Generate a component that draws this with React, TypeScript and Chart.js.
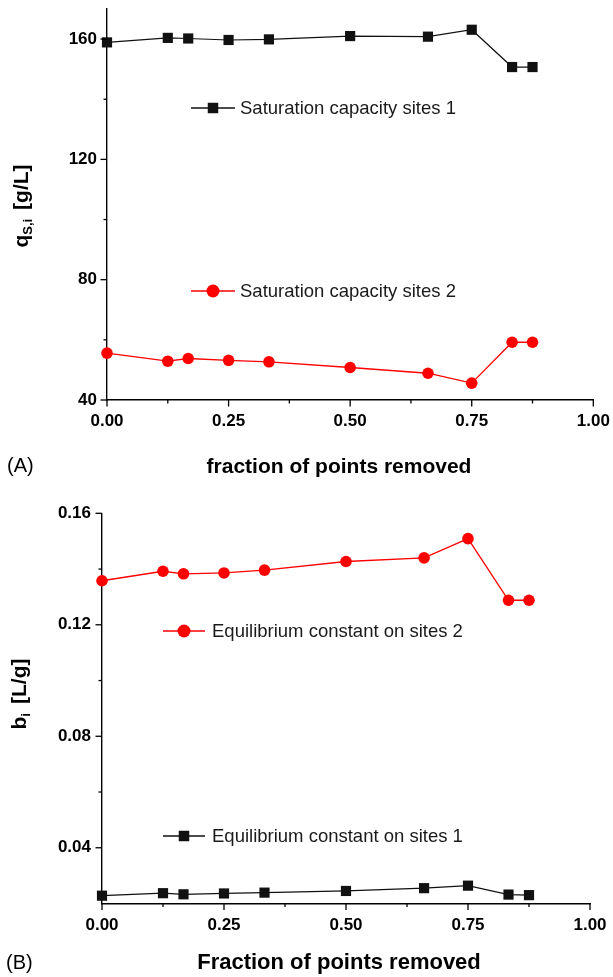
import React, { useEffect, useRef } from "react";
import { Chart, registerables } from "chart.js";

Chart.register(...registerables);

// Fraction of points removed from the data set before refitting
const fractionRemoved = [0, 0.125, 0.167, 0.25, 0.333, 0.5, 0.66, 0.75, 0.833, 0.875];

// (A) saturation capacities, g/L
const capacitySites1 = [158.9, 160.4, 160.2, 159.7, 159.9, 161.0, 160.8, 163.1, 150.7, 150.7];
const capacitySites2 = [55.6, 52.9, 53.8, 53.2, 52.7, 50.8, 48.9, 45.6, 59.2, 59.2];

// (B) equilibrium constants, L/g
const equilibriumSites1 = [0.0228, 0.0237, 0.0233, 0.0236, 0.0239, 0.0245, 0.0255, 0.0264, 0.0232, 0.023];
const equilibriumSites2 = [0.1358, 0.1392, 0.1383, 0.1386, 0.1396, 0.1427, 0.144, 0.1509, 0.1288, 0.1288];

// Tick marks
const fractionMajorTicks = [0, 0.25, 0.5, 0.75, 1];
const fractionMinorTicks = [0.125, 0.375, 0.625, 0.875];
const capacityMajorTicks = [40, 80, 120, 160];
const capacityMinorTicks = [60, 100, 140];
const equilibriumMajorTicks = [0.04, 0.08, 0.12, 0.16];
const equilibriumMinorTicks = [0.06, 0.1, 0.14];

const FONT = "'Liberation Sans', Arial, Helvetica, sans-serif";
const RED = "#ff0000";
const BLACK = "#111111";

type Marker = "rect" | "circle";

interface Series {
  values: number[];
  color: string;
  marker: Marker;
  lineWidth: number;
}

interface LegendItem {
  text: string;
  color: string;
  marker: Marker;
  y: number;
}

interface PanelSpec {
  width: number;
  height: number;
  area: { left: number; top: number; right: number; bottom: number };
  yMin: number;
  yMax: number;
  yStep: number;
  yLabel: (v: number) => string;
  yMajor: number[];
  yMinor: number[];
  xLabelPadding: number;
  yLabelPadding: number;
  series: Series[];
  legend: { lineFrom: number; lineTo: number; markerX: number; textX: number; items: LegendItem[] };
  yTitle: { main: string; sub: string; unit: string; x: number; y: number };
  xTitle: { text: string; x: number; y: number; size: number };
  tag: { text: string; x: number; y: number };
}

const panelA: PanelSpec = {
  width: 613,
  height: 488,
  area: { left: 107, top: 9, right: 593.3, bottom: 400 },
  yMin: 40,
  yMax: 170,
  yStep: 20,
  yLabel: (v) => (v % 40 === 0 && v <= 160 ? String(v) : ""),
  yMajor: capacityMajorTicks,
  yMinor: capacityMinorTicks,
  xLabelPadding: 11,
  yLabelPadding: 10,
  series: [
    { values: capacitySites1, color: BLACK, marker: "rect", lineWidth: 1.2 },
    { values: capacitySites2, color: RED, marker: "circle", lineWidth: 1.3 },
  ],
  legend: {
    lineFrom: 191,
    lineTo: 235,
    markerX: 213,
    textX: 240,
    items: [
      { text: "Saturation capacity sites 1", color: BLACK, marker: "rect", y: 108 },
      { text: "Saturation capacity sites 2", color: RED, marker: "circle", y: 291 },
    ],
  },
  yTitle: { main: "q", sub: "S,i", unit: "[g/L]", x: 28, y: 206 },
  xTitle: { text: "fraction of points removed", x: 339, y: 467, size: 21 },
  tag: { text: "(A)", x: 7, y: 466 },
};

const panelB: PanelSpec = {
  width: 613,
  height: 489,
  area: { left: 102, top: 25.3, right: 590, bottom: 415.5 },
  yMin: 0.02,
  yMax: 0.16,
  yStep: 0.02,
  yLabel: (v) => (Math.round(v * 100) % 4 === 0 ? v.toFixed(2) : ""),
  yMajor: equilibriumMajorTicks,
  yMinor: equilibriumMinorTicks,
  xLabelPadding: 12,
  yLabelPadding: 11,
  series: [
    { values: equilibriumSites1, color: BLACK, marker: "rect", lineWidth: 1.2 },
    { values: equilibriumSites2, color: RED, marker: "circle", lineWidth: 1.3 },
  ],
  legend: {
    lineFrom: 163,
    lineTo: 205,
    markerX: 184,
    textX: 212,
    items: [
      { text: "Equilibrium constant on sites 2", color: RED, marker: "circle", y: 143 },
      { text: "Equilibrium constant on sites 1", color: BLACK, marker: "rect", y: 348 },
    ],
  },
  yTitle: { main: "b", sub: "i", unit: "[L/g]", x: 26, y: 206 },
  xTitle: { text: "Fraction of points removed", x: 339, y: 475, size: 22 },
  tag: { text: "(B)", x: 6, y: 475 },
};

function drawMarker(ctx: CanvasRenderingContext2D, marker: Marker, x: number, y: number, size: number, color: string) {
  ctx.fillStyle = color;
  if (marker === "rect") {
    ctx.fillRect(x - size / 2, y - size / 2, size, size);
  } else {
    ctx.beginPath();
    ctx.arc(x, y, size / 2, 0, Math.PI * 2);
    ctx.fill();
  }
}

function makeDecor(spec: PanelSpec) {
  return {
    id: "panelDecor",
    afterDraw(chart: Chart) {
      const ctx = chart.ctx;
      const xs = chart.scales.x;
      const ys = chart.scales.y;
      ctx.save();

      // tick marks, pointing outward
      ctx.strokeStyle = "#000";
      ctx.lineWidth = 1.3;
      const drawX = (v: number, len: number) => {
        const px = xs.getPixelForValue(v);
        ctx.beginPath();
        ctx.moveTo(px, ys.bottom);
        ctx.lineTo(px, ys.bottom + len);
        ctx.stroke();
      };
      const drawY = (v: number, len: number) => {
        const py = ys.getPixelForValue(v);
        ctx.beginPath();
        ctx.moveTo(xs.left, py);
        ctx.lineTo(xs.left - len, py);
        ctx.stroke();
      };
      fractionMajorTicks.forEach((v) => drawX(v, 6.5));
      fractionMinorTicks.forEach((v) => drawX(v, 3.5));
      spec.yMajor.forEach((v) => drawY(v, 6.5));
      spec.yMinor.forEach((v) => drawY(v, 3.5));

      // in-plot legend
      const lg = spec.legend;
      ctx.font = `18.5px ${FONT}`;
      ctx.textAlign = "left";
      ctx.textBaseline = "middle";
      lg.items.forEach((item) => {
        ctx.strokeStyle = item.color;
        ctx.lineWidth = 1.3;
        ctx.beginPath();
        ctx.moveTo(lg.lineFrom, item.y);
        ctx.lineTo(lg.lineTo, item.y);
        ctx.stroke();
        drawMarker(ctx, item.marker, lg.markerX, item.y, item.marker === "rect" ? 10.5 : 13, item.color);
        ctx.fillStyle = "#1a1a1a";
        ctx.fillText(item.text, lg.textX, item.y + 1);
      });

      // x axis title and panel tag
      ctx.fillStyle = "#000";
      ctx.font = `bold ${spec.xTitle.size}px ${FONT}`;
      ctx.textAlign = "center";
      ctx.fillText(spec.xTitle.text, spec.xTitle.x, spec.xTitle.y);
      ctx.font = `20px ${FONT}`;
      ctx.textAlign = "left";
      ctx.fillText(spec.tag.text, spec.tag.x, spec.tag.y);

      // rotated y axis title with subscript
      const t = spec.yTitle;
      const mainFont = `bold 21px ${FONT}`;
      const subFont = `bold 13px ${FONT}`;
      ctx.font = mainFont;
      const wMain = ctx.measureText(t.main).width;
      const wUnit = ctx.measureText(t.unit).width;
      ctx.font = subFont;
      const wSub = ctx.measureText(t.sub).width;
      const gap = 9;
      const total = wMain + wSub + gap + wUnit;
      ctx.translate(t.x, t.y);
      ctx.rotate(-Math.PI / 2);
      ctx.textBaseline = "alphabetic";
      let cx = -total / 2;
      ctx.font = mainFont;
      ctx.fillText(t.main, cx, 0);
      cx += wMain;
      ctx.font = subFont;
      ctx.fillText(t.sub, cx, 4);
      cx += wSub + gap;
      ctx.font = mainFont;
      ctx.fillText(t.unit, cx, 0);

      ctx.restore();
    },
  };
}

// keep the plot area fixed: labels may overhang into the margins
function clearScalePadding(s: any) {
  s.paddingTop = 0;
  s.paddingBottom = 0;
  s.paddingLeft = 0;
  s.paddingRight = 0;
}

function buildConfig(spec: PanelSpec): any {
  return {
    type: "line",
    data: {
      datasets: spec.series.map((s) => ({
        data: fractionRemoved.map((x, i) => ({ x, y: s.values[i] })),
        borderColor: s.color,
        backgroundColor: s.color,
        borderWidth: s.lineWidth,
        pointStyle: s.marker,
        pointRadius: s.marker === "rect" ? 7.2 : 5.8,
        pointBorderWidth: 0,
        pointBackgroundColor: s.color,
        tension: 0,
        clip: false,
      })),
    },
    options: {
      responsive: false,
      animation: false,
      events: [],
      layout: {
        padding: { left: 0, top: spec.area.top, right: spec.width - spec.area.right, bottom: 0 },
      },
      plugins: { legend: { display: false }, tooltip: { enabled: false } },
      scales: {
        x: {
          type: "linear",
          min: 0,
          max: 1,
          afterFit: (s: any) => {
            s.height = spec.height - spec.area.bottom;
            clearScalePadding(s);
          },
          grid: { display: false, drawTicks: false },
          border: { display: true, color: "#000", width: 1.4 },
          ticks: {
            stepSize: 0.125,
            autoSkip: false,
            maxRotation: 0,
            padding: spec.xLabelPadding,
            color: "#000",
            font: { family: FONT, size: 17, weight: "bold" },
            callback: (v: number) => (Math.abs(v * 4 - Math.round(v * 4)) < 1e-6 ? v.toFixed(2) : ""),
          },
        },
        y: {
          type: "linear",
          min: spec.yMin,
          max: spec.yMax,
          afterFit: (s: any) => {
            s.width = spec.area.left;
            clearScalePadding(s);
          },
          grid: { display: false, drawTicks: false },
          border: { display: true, color: "#000", width: 1.4 },
          ticks: {
            stepSize: spec.yStep,
            autoSkip: false,
            padding: spec.yLabelPadding,
            color: "#000",
            font: { family: FONT, size: 17, weight: "bold" },
            callback: (v: number) => spec.yLabel(v),
          },
        },
      },
    },
    plugins: [makeDecor(spec)],
  };
}

function Panel({ spec, top }: { spec: PanelSpec; top: number }) {
  const ref = useRef<HTMLCanvasElement>(null);
  useEffect(() => {
    if (!ref.current) return;
    const chart = new Chart(ref.current, buildConfig(spec));
    return () => chart.destroy();
  }, [spec]);
  return (
    <canvas
      ref={ref}
      width={spec.width}
      height={spec.height}
      style={{ position: "absolute", left: 0, top, width: spec.width, height: spec.height }}
    />
  );
}

export default function App() {
  return (
    <div style={{ position: "absolute", left: 0, top: 0, width: 613, height: 977, background: "#fff" }}>
      <Panel spec={panelA} top={0} />
      <Panel spec={panelB} top={488} />
    </div>
  );
}
